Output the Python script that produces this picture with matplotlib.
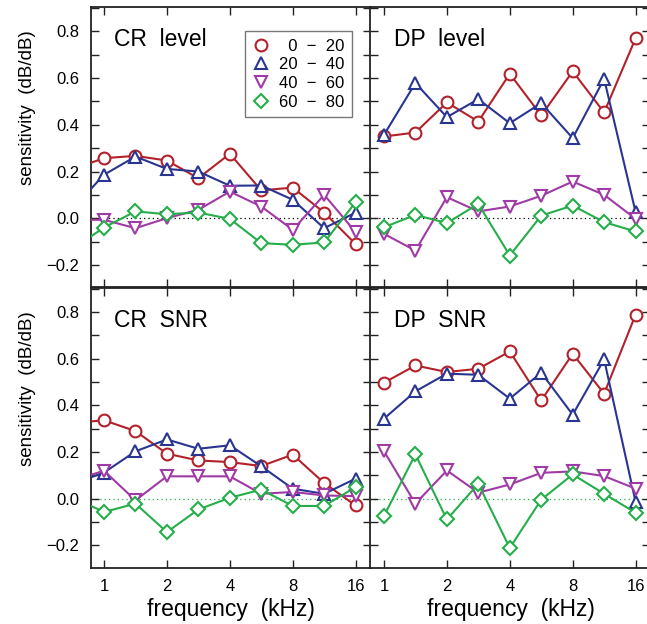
import numpy as np
import matplotlib
matplotlib.use("Agg")
import matplotlib.pyplot as plt
from matplotlib.ticker import FixedLocator, MultipleLocator, FuncFormatter

plt.rcParams["font.family"] = ["Liberation Sans", "DejaVu Sans"]

# frequencies (kHz), half-octave steps; CR panels start one step lower (clipped at the edge)
freq_dp = [1.0, 1.414, 2.0, 2.828, 4.0, 5.657, 8.0, 11.31, 16.0]
freq_cr = [0.707] + freq_dp

levels = ["  0  \u2212  20", "20  \u2212  40", "40  \u2212  60", "60  \u2212  80"]

# sensitivity (dB/dB)
cr_level = [
    [0.21, 0.257, 0.267, 0.247, 0.171, 0.276, 0.119, 0.131, 0.024, -0.111],
    [0.04, 0.186, 0.264, 0.211, 0.200, 0.139, 0.140, 0.079, -0.043, 0.024],
    [-0.007, -0.007, -0.043, 0.000, 0.036, 0.114, 0.050, -0.050, 0.100, -0.060],
    [-0.132, -0.040, 0.029, 0.017, 0.024, -0.003, -0.107, -0.114, -0.104, 0.069],
]
dp_level = [
    [0.350, 0.367, 0.496, 0.414, 0.619, 0.440, 0.629, 0.453, 0.771],
    [0.357, 0.579, 0.433, 0.510, 0.407, 0.493, 0.343, 0.597, 0.026],
    [-0.067, -0.139, 0.090, 0.029, 0.050, 0.096, 0.157, 0.100, -0.003],
    [-0.039, 0.014, -0.021, 0.061, -0.160, 0.011, 0.054, -0.017, -0.057],
]
cr_snr = [
    [0.325, 0.336, 0.290, 0.193, 0.164, 0.157, 0.140, 0.189, 0.067, -0.029],
    [0.063, 0.112, 0.203, 0.254, 0.214, 0.229, 0.139, 0.043, 0.021, 0.086],
    [0.077, 0.120, -0.007, 0.096, 0.096, 0.096, 0.021, 0.029, 0.014, 0.011],
    [0.006, -0.057, -0.021, -0.143, -0.046, 0.004, 0.039, -0.031, -0.031, 0.050],
]
dp_snr = [
    [0.497, 0.571, 0.543, 0.557, 0.631, 0.421, 0.621, 0.450, 0.789],
    [0.343, 0.460, 0.536, 0.531, 0.429, 0.540, 0.360, 0.597, -0.014],
    [0.204, -0.021, 0.121, 0.026, 0.061, 0.111, 0.117, 0.097, 0.043],
    [-0.074, 0.190, -0.089, 0.064, -0.211, -0.004, 0.104, 0.021, -0.060],
]

colors = ["#b3222b", "#2a3592", "#a03aa6", "#25ae4a"]
markers = ["o", "^", "v", "D"]
msizes = [8.5, 8.5, 8.5, 7.2]

fig = plt.figure(figsize=(6.47, 6.24), dpi=100)

w, h = 0.4328, 0.4495
panels = [
    ("CR  level", freq_cr, cr_level, (0.1399, 0.5393), "k"),
    ("DP  level", freq_dp, dp_level, (0.5726, 0.5393), "k"),
    ("CR  SNR", freq_cr, cr_snr, (0.1399, 0.0897), colors[3]),
    ("DP  SNR", freq_dp, dp_snr, (0.5726, 0.0897), colors[3]),
]

fmt_y = FuncFormatter(lambda v, p: f"{v:.1f}".replace("-", "\u2212"))
axes = []
for i, (title, freqs, series, (x0, y0), zcol) in enumerate(panels):
    ax = fig.add_axes([x0, y0, w, h])
    axes.append(ax)
    ax.set_xscale("log")
    ax.set_xlim(0.862, 18.85)
    ax.set_ylim(-0.297, 0.905)
    ax.axhline(0, color=zcol, lw=0.9, ls=(0, (1, 2.5)), zorder=1)
    for vals, c, m, ms, lab in zip(series, colors, markers, msizes, levels):
        ax.plot(freqs, vals, color=c, lw=1.5, marker=m, ms=ms, mfc="white",
                mec=c, mew=1.5, label=lab, zorder=3)
    ax.text(0.085, 0.925, title, transform=ax.transAxes, fontsize=16.5,
            va="top", ha="left")

    ax.xaxis.set_major_locator(FixedLocator([1, 2, 4, 8, 16]))
    ax.xaxis.set_minor_locator(FixedLocator([]))
    ax.xaxis.set_major_formatter(FuncFormatter(lambda v, p: f"{v:g}"))
    ax.yaxis.set_major_locator(MultipleLocator(0.2))
    ax.yaxis.set_minor_locator(MultipleLocator(0.1))
    ax.yaxis.set_major_formatter(fmt_y)
    ax.tick_params(which="both", direction="in", top=True, right=True,
                   length=6, width=1.0, color="#222222", labelsize=12, pad=8)
    for s in ax.spines.values():
        s.set_linewidth(1.3)
        s.set_color("#222222")
    if i % 2 == 1:
        ax.tick_params(labelleft=False)
    else:
        ax.set_ylabel("sensitivity  (dB/dB)", fontsize=13.5)
        ax.yaxis.set_label_coords(-0.195, 0.64)
    if i < 2:
        ax.tick_params(labelbottom=False)
    else:
        ax.set_xlabel("frequency  (kHz)", fontsize=16.5, labelpad=3)

leg = axes[0].legend(loc="upper left", bbox_to_anchor=(0.552, 0.914),
                     borderaxespad=0, frameon=True, fancybox=False,
                     handlelength=1.0, handletextpad=0.6, labelspacing=0.22,
                     borderpad=0.45, fontsize=12)
for line in leg.get_lines():
    line.set_linestyle("none")
leg.get_frame().set_edgecolor("#555555")
leg.get_frame().set_linewidth(1.0)

plt.savefig("out.png", dpi=100)
plt.close()
